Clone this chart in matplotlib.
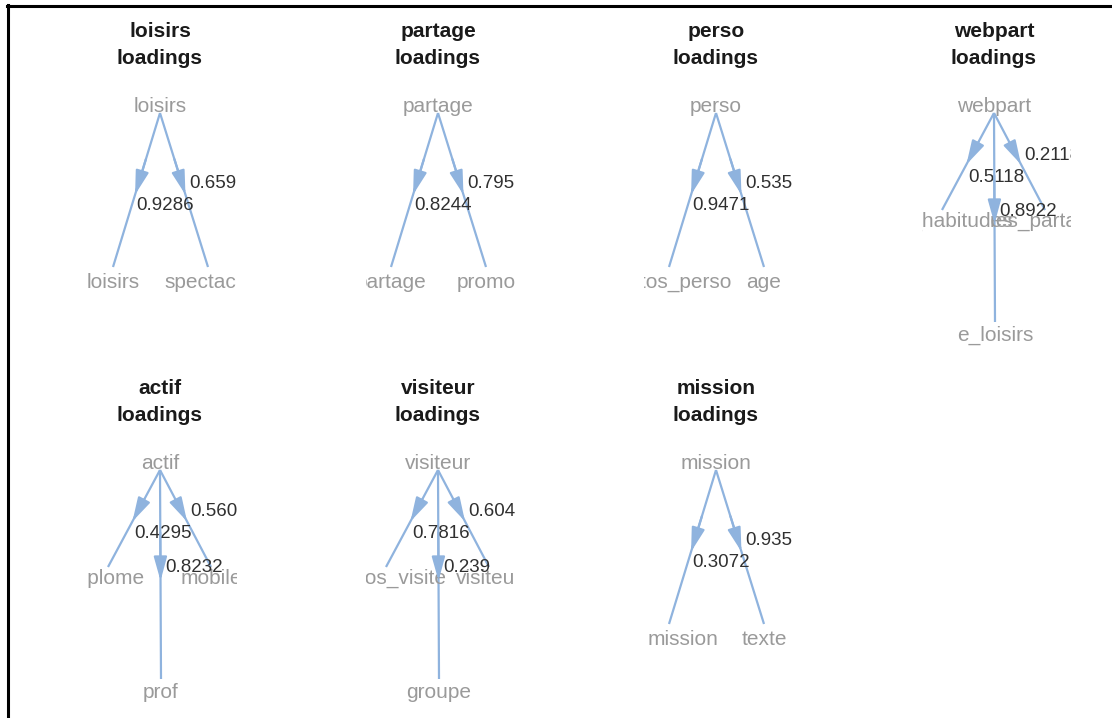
import matplotlib
matplotlib.use("Agg")
import matplotlib.pyplot as plt
from matplotlib.lines import Line2D

plt.rcParams['font.family'] = ['Liberation Sans', 'DejaVu Sans']

# constructs and their indicators with outer loadings
constructs = ["loisirs", "partage", "perso", "webpart", "actif", "visiteur", "mission"]
indicators = [
    ["loisirs", "spectacle"],
    ["partage", "promo"],
    ["photos_perso", "age"],
    ["web_habitudes", "res_partage", "e_loisirs"],
    ["diplome", "mobile", "prof"],
    ["photos_visite", "visiteur", "groupe"],
    ["mission", "texte"],
]
loadings = [
    [0.9286, 0.659],
    [0.8244, 0.795],
    [0.9471, 0.535],
    [0.5118, 0.2118, 0.8922],
    [0.4295, 0.5603, 0.8232],
    [0.7816, 0.6043, 0.2390],
    [0.3072, 0.935],
]

W, H = 1112, 718
EDGE = "#8fb3de"
NODE = "#9a9a9a"
LAB = "#303030"

# label nudges where the original label sits off its node
label_shift = {(6, 0): 14}


def node_layout(n):
    # dot-like positions (pixels relative to the latent node)
    if n == 2:
        return [(-47, 155, 176), (48, 155, 176)]
    return [(-52, 98, 115), (51, 98, 115), (1, 210, 229)]


fig = plt.figure(figsize=(W / 100, H / 100), dpi=100)

for k, name in enumerate(constructs):
    row, col = divmod(k, 4)
    cx = 160 + 278 * col
    ry = 112 + 357 * row
    left, right = cx - 72, cx + 77
    top, bottom = ry - 90, ry + 245
    ax = fig.add_axes([left / W, 1 - bottom / H, (right - left) / W, (bottom - top) / H])
    ax.set_xlim(-72, 77)
    ax.set_ylim(245, -90)
    ax.axis("off")

    ax.text(0, -75, name, ha="center", va="baseline", fontsize=15,
            fontweight="bold", color="#1a1a1a", clip_on=False)
    ax.text(0, -48, "loadings", ha="center", va="baseline", fontsize=15,
            fontweight="bold", color="#1a1a1a", clip_on=False)
    ax.text(0, 0, name, ha="center", va="baseline", fontsize=15,
            color=NODE, clip_on=True)

    pos = node_layout(len(indicators[k]))
    for i, ((x, y, ly), ind, val) in enumerate(zip(pos, indicators[k], loadings[k])):
        x0, y0 = 0, 1
        ax.plot([x0, x], [y0, y], color=EDGE, lw=1.6, solid_capstyle="butt")
        tip = (x0 + 0.53 * (x - x0), y0 + 0.53 * (y - y0))
        tail = (x0 + 0.3 * (x - x0), y0 + 0.3 * (y - y0))
        ax.annotate("", xy=tip, xytext=tail,
                    arrowprops=dict(arrowstyle="-|>,head_length=1.45,head_width=0.4",
                                    color=EDGE, lw=1.6, mutation_scale=10,
                                    shrinkA=0, shrinkB=0))
        ax.text(x + label_shift.get((k, i), 0), ly, ind, ha="center", va="baseline",
                fontsize=15, color=NODE, clip_on=True)
        mx, my = (x0 + x) / 2, (y0 + y) / 2
        if x < -5:
            tx, ty = mx, my + 20
        else:
            tx, ty = mx + 5, my - 2
        ax.text(tx, ty, "{:.4g}".format(val), ha="left", va="baseline",
                fontsize=13.5, color=LAB, clip_on=True)

# frame lines of the original screenshot
fig.add_artist(Line2D([8 / W, 8 / W], [0, 1 - 5 / H], color="black", lw=2.2,
                      transform=fig.transFigure))
fig.add_artist(Line2D([7 / W, 1], [1 - 6 / H, 1 - 6 / H], color="black", lw=2.2,
                      transform=fig.transFigure))

fig.savefig("out.png", dpi=100, facecolor="white")
